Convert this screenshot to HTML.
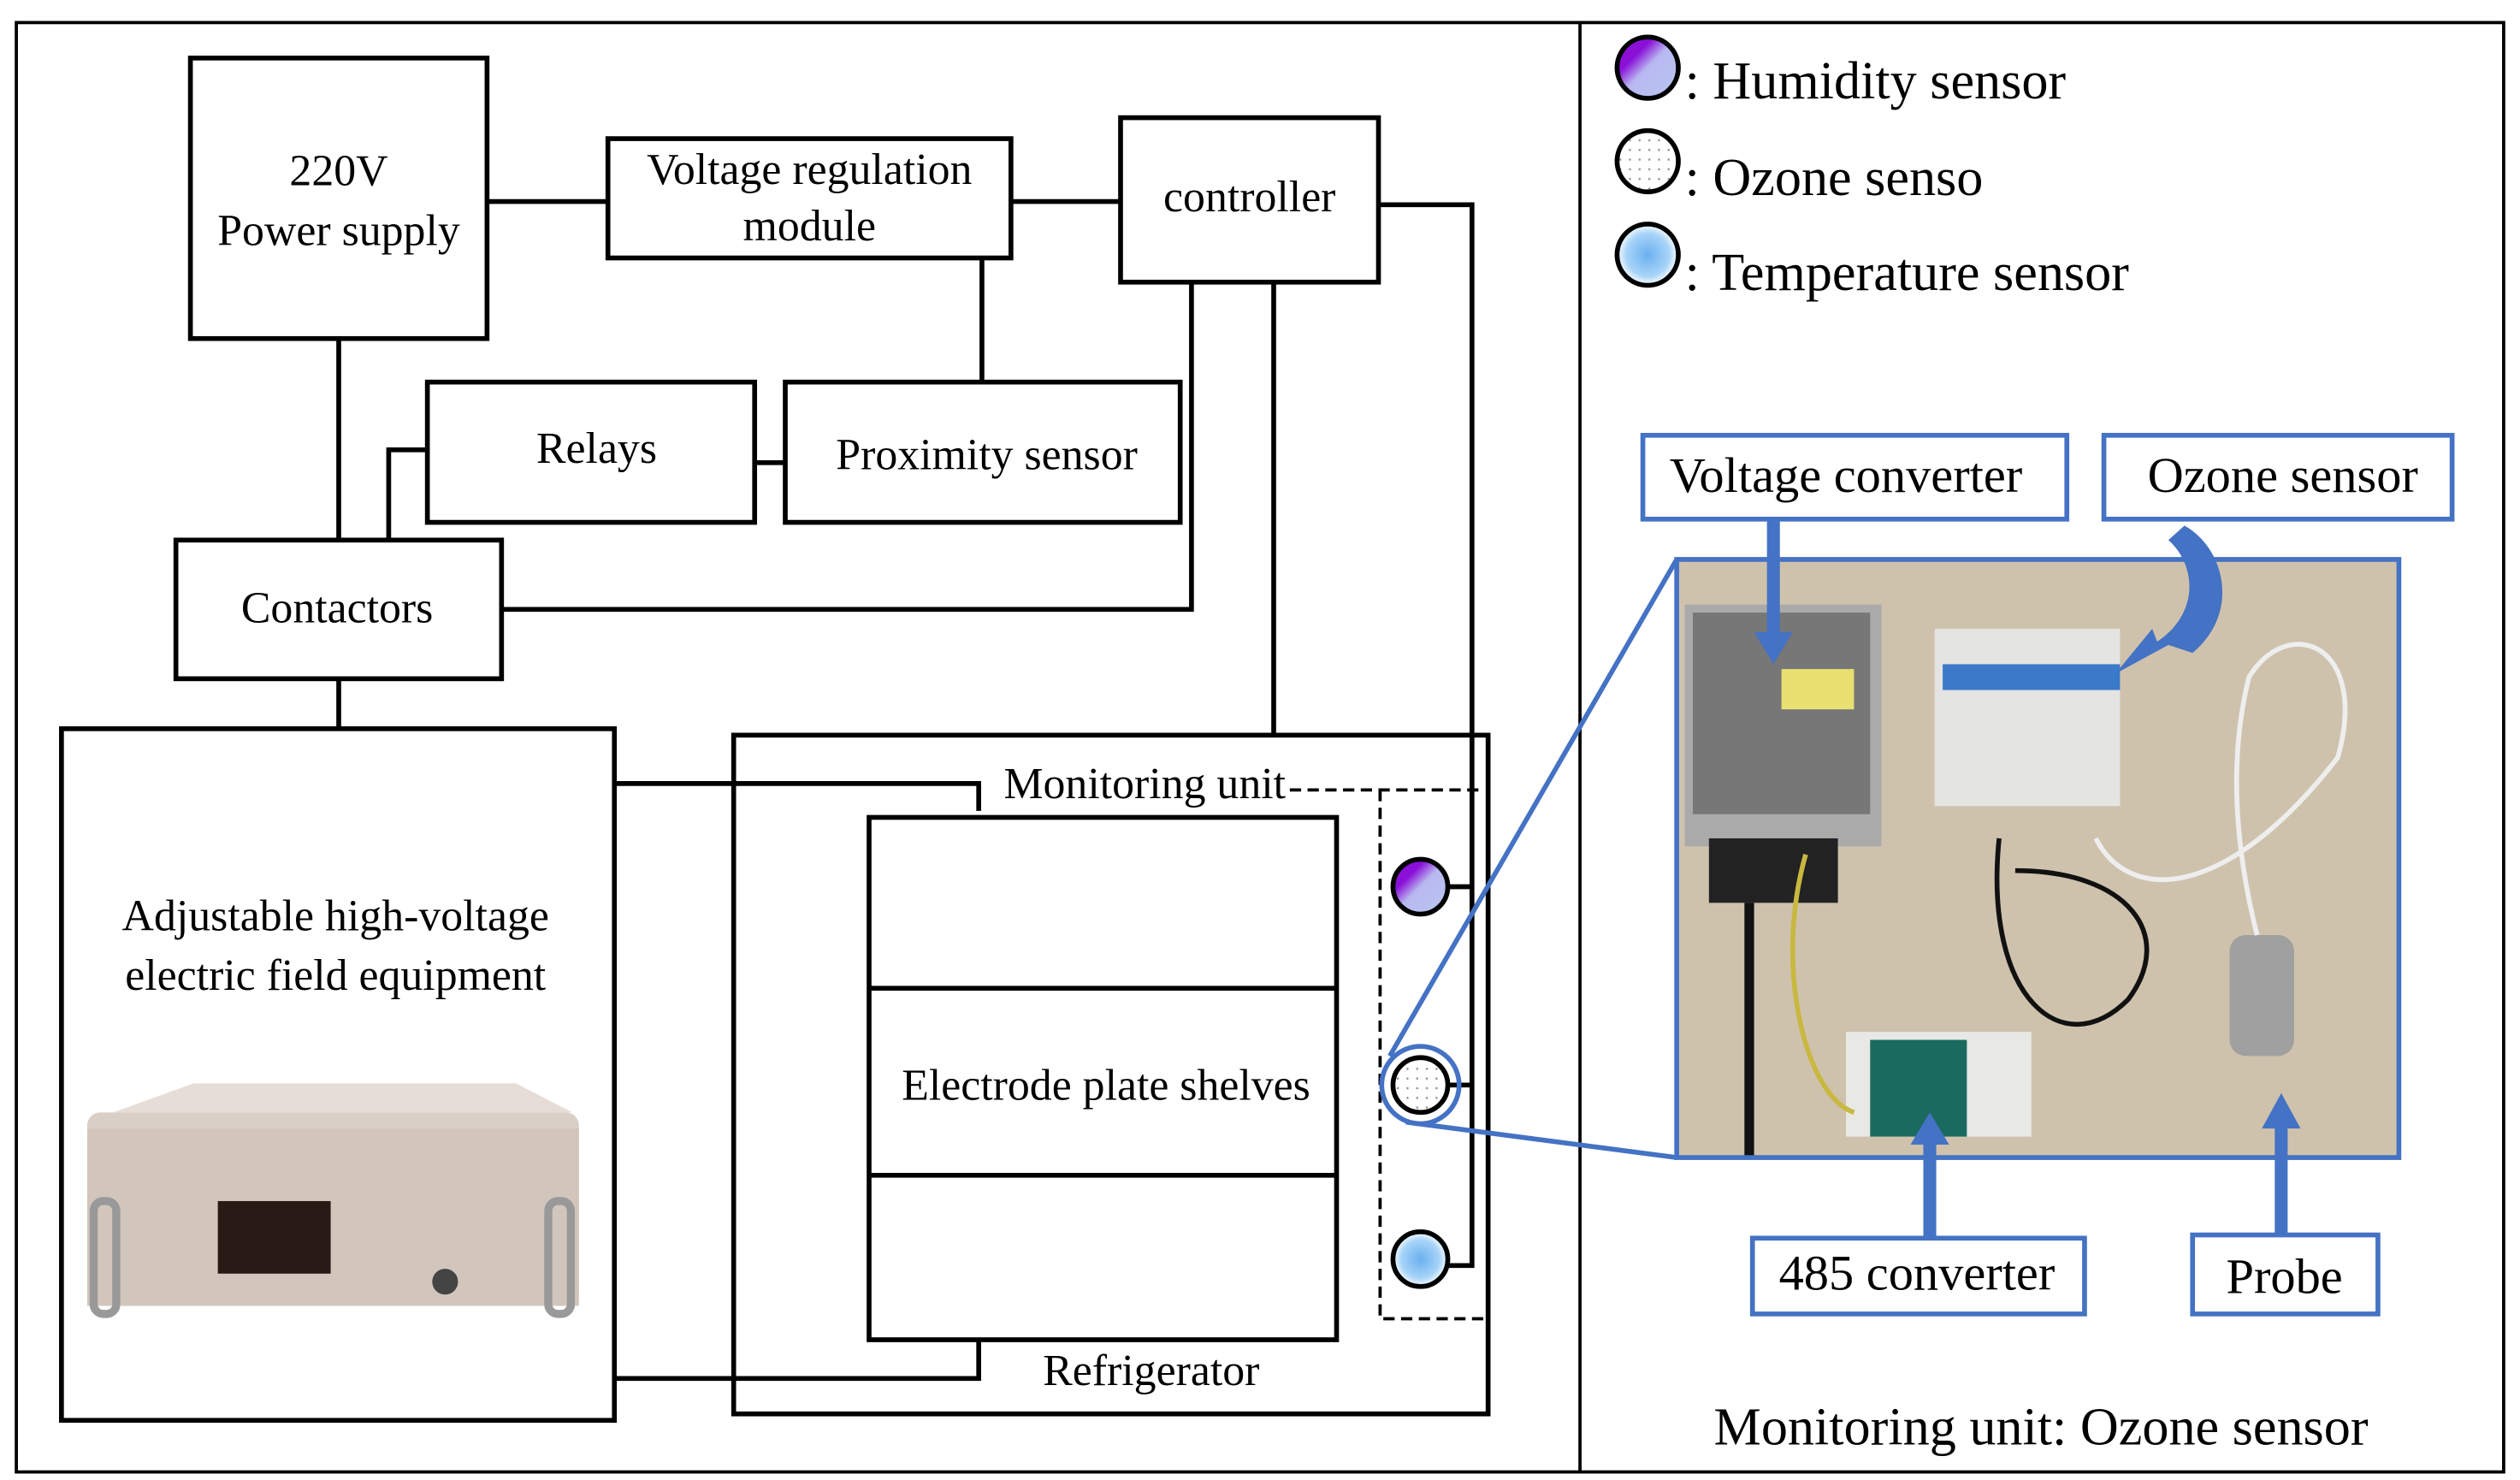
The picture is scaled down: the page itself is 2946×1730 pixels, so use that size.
<!DOCTYPE html>
<html><head><meta charset="utf-8"><style>html,body{margin:0;padding:0;background:#fff}svg{display:block}</style></head><body>
<svg width="2946" height="1730" viewBox="0 0 1563 918" xmlns="http://www.w3.org/2000/svg" font-family="'Liberation Serif', serif">
<defs>
<linearGradient id="hg" x1="0" y1="0" x2="1" y2="1"><stop offset="0.3" stop-color="#8a10d8"/><stop offset="0.5" stop-color="#b8b8f0"/><stop offset="1" stop-color="#b8c8f0"/></linearGradient>
<pattern id="dots" width="6" height="6" patternUnits="userSpaceOnUse"><rect width="6" height="6" fill="#fff"/><circle cx="3" cy="3" r="0.7" fill="#999"/></pattern>
<radialGradient id="tg"><stop offset="0" stop-color="#6ab0f0"/><stop offset="0.7" stop-color="#a8d4f8"/><stop offset="1" stop-color="#fff"/></radialGradient>
</defs>
<rect x="10" y="14" width="1543" height="899" fill="#fff" stroke="#000" stroke-width="2"/>
<line x1="980" y1="14" x2="980" y2="913" stroke="#000" stroke-width="2"/>
<g fill="none" stroke="#000" stroke-width="3">
<rect x="118" y="36" width="184" height="174"/>
<rect x="377" y="86" width="250" height="74"/>
<rect x="695" y="73" width="160" height="102"/>
<rect x="265" y="237" width="203" height="87"/>
<rect x="487" y="237" width="245" height="87"/>
<rect x="109" y="335" width="202" height="86"/>
<rect x="38" y="452" width="343" height="429"/>
<rect x="455" y="456" width="468" height="421"/>
<rect x="539" y="507" width="290" height="324"/>
<line x1="539" y1="613" x2="829" y2="613"/><line x1="539" y1="729" x2="829" y2="729"/>
<path d="M302 125H377M627 125H695M609 160V237M468 287H487M210 210V335M265 279H241V335M311 378H739V175M790 175V456M855 127H913V785H898M913 550H898M913 673H898M210 421V452M381 486H607V503M381 855H607V831"/>
</g>
<g fill="none" stroke="#000" stroke-width="2" stroke-dasharray="7,4">
<path d="M800 490H920M856 490V818H920"/>
</g>
<circle cx="881" cy="550" r="17" fill="url(#hg)" stroke="#000" stroke-width="3"/>
<circle cx="881" cy="673" r="17" fill="url(#dots)" stroke="#000" stroke-width="3"/>
<circle cx="881" cy="781" r="17" fill="url(#tg)" stroke="#000" stroke-width="3"/>
<circle cx="1022" cy="42" r="19" fill="url(#hg)" stroke="#000" stroke-width="3"/>
<circle cx="1022" cy="100" r="19" fill="url(#dots)" stroke="#000" stroke-width="3"/>
<circle cx="1022" cy="158" r="19" fill="url(#tg)" stroke="#000" stroke-width="3"/>
<g font-size="27.5" text-anchor="middle" fill="#000">
<text x="210" y="115">220V</text><text x="210" y="152">Power supply</text>
<text x="502" y="114">Voltage regulation</text><text x="502" y="149">module</text>
<text x="775" y="131">controller</text>
<text x="370" y="287">Relays</text>
<text x="612" y="291">Proximity sensor</text>
<text x="209" y="386">Contactors</text>
<text x="208" y="577">Adjustable high-voltage</text><text x="208" y="614">electric field equipment</text>
<text x="686" y="682">Electrode plate shelves</text>
<text x="710" y="495">Monitoring unit</text>
<text x="714" y="859">Refrigerator</text>
</g>
<g font-size="33" fill="#000">
<text x="1045" y="61">: Humidity sensor</text>
<text x="1045" y="121">: Ozone senso</text>
<text x="1045" y="180">: Temperature sensor</text>
<text x="1266" y="896" text-anchor="middle">Monitoring unit: Ozone sensor</text>
</g>
<g>
<rect x="54" y="690" width="305" height="120" rx="8" fill="#d9cfc6"/>
<path d="M70 690L120 672H320L355 690Z" fill="#e6ddd6"/>
<rect x="54" y="700" width="305" height="110" fill="#d2c6bc"/>
<rect x="135" y="745" width="70" height="45" fill="#2a1a16"/>
<circle cx="276" cy="795" r="8" fill="#444"/>
<rect x="58" y="745" width="14" height="70" rx="6" fill="none" stroke="#999" stroke-width="5"/>
<rect x="340" y="745" width="14" height="70" rx="6" fill="none" stroke="#999" stroke-width="5"/>
</g>
<rect x="1040" y="347" width="448" height="371" fill="#cfc2ad"/>
<rect x="1045" y="375" width="122" height="150" fill="#aaa" />
<rect x="1050" y="380" width="110" height="125" fill="#555" opacity="0.6"/>
<rect x="1105" y="415" width="45" height="25" fill="#e8e070"/>
<rect x="1060" y="520" width="80" height="40" fill="#222"/>
<rect x="1200" y="390" width="115" height="110" fill="#e4e4e2"/>
<rect x="1205" y="412" width="110" height="16" fill="#3a7ac8"/>
<rect x="1145" y="640" width="115" height="65" fill="#e8e8e4"/>
<rect x="1160" y="645" width="60" height="60" fill="#1a6a60"/>
<rect x="1383" y="580" width="40" height="75" rx="10" fill="#a0a0a0"/>
<g fill="none" stroke-width="3">
<path d="M1085 560V718" stroke="#111" stroke-width="6"/>
<path d="M1240 520C1230 620 1280 660 1320 620C1350 580 1320 540 1250 540" stroke="#111"/>
<path d="M1300 520C1320 560 1380 560 1450 470C1470 400 1420 380 1395 420C1380 480 1390 540 1400 580" stroke="#eee"/>
<path d="M1120 530C1100 600 1120 680 1150 690" stroke="#c8b840"/>
</g>
<rect x="1040" y="347" width="448" height="371" fill="none" stroke="#4472c4" stroke-width="3"/>
<g stroke="#4472c4" stroke-width="3" fill="none">
<circle cx="881" cy="673" r="24"/>
<path d="M862 655L1040 347M872 696L1040 718"/>
</g>
<g fill="#fff" stroke="#4472c4" stroke-width="3">
<rect x="1019" y="270" width="263" height="52"/>
<rect x="1305" y="270" width="216" height="52"/>
<rect x="1087" y="768" width="206" height="47"/>
<rect x="1360" y="766" width="115" height="49"/>
</g>
<g fill="#4472c4" stroke="none">
<rect x="1096" y="322" width="8" height="72"/><path d="M1088 392H1112L1100 412Z"/>
<rect x="1193" y="708" width="8" height="60"/><path d="M1185 710H1209L1197 690Z"/>
<rect x="1411" y="698" width="8" height="68"/><path d="M1403 700H1427L1415 678Z"/>
<path d="M1355 326C1380 340 1390 380 1360 405L1345 400L1312 418L1335 390L1338 398C1365 380 1362 350 1345 335Z"/>
</g>
<g font-size="31" text-anchor="middle" fill="#000">
<text x="1145" y="305">Voltage converter</text>
<text x="1416" y="305">Ozone sensor</text>
<text x="1189" y="800">485 converter</text>
<text x="1417" y="802">Probe</text>
</g>
</svg>
</body></html>
